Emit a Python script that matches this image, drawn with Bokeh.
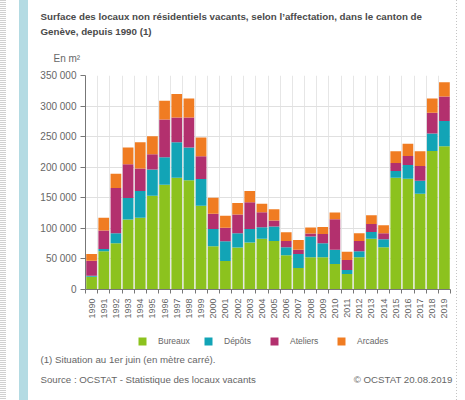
from bokeh.plotting import figure
from bokeh.layouts import column
from bokeh.models import ColumnDataSource, FixedTicker, Legend, LegendItem, Range1d
from bokeh.embed import file_html
from bokeh.resources import INLINE
from bokeh.core.properties import value
from math import pi, nan

years = [1990, 1991, 1992, 1993, 1994, 1995, 1996, 1997, 1998, 1999,
         2000, 2001, 2002, 2003, 2004, 2005, 2006, 2007, 2008, 2009,
         2010, 2011, 2012, 2013, 2014, 2015, 2016, 2017, 2018, 2019]
bureaux = [20800, 62400, 75600, 114500, 117200, 153400, 171400, 182900, 178500, 136900,
           70700, 46600, 68500, 76700, 83200, 79400, 55900, 35100, 52600, 52600,
           41600, 25200, 52600, 83200, 69000, 182900, 181300, 156600, 226700, 234400]
depots = [1700, 3900, 16400, 35000, 43800, 42700, 44900, 58100, 53700, 43800,
          28400, 32300, 23500, 22400, 18700, 23600, 13100, 23000, 33900, 23000,
          23600, 6600, 9800, 11000, 13200, 11000, 22400, 21400, 28500, 41100]
ateliers = [24600, 30100, 74000, 55300, 36700, 25200, 61900, 40500, 49300, 37300,
            24700, 21900, 30700, 43800, 24600, 9800, 10400, 7100, 5000, 15300,
            49800, 16400, 17000, 13100, 9800, 13100, 14800, 24100, 34000, 40000]
arcades = [10900, 20800, 23500, 27400, 43300, 29500, 30700, 38400, 30700, 30600,
           26300, 19700, 18600, 18100, 13700, 18600, 14300, 15900, 9800, 11500,
           11000, 13700, 12600, 14300, 13200, 19200, 19700, 24100, 23000, 23500]
series = ["Bureaux", "Dépôts", "Ateliers", "Arcades"]
colors = ["#8cc21e", "#12a4b6", "#b3306e", "#f07c22"]
y_ticks = [0, 50000, 100000, 150000, 200000, 250000, 300000, 350000]
y_tick_labels = ["0", "50 000", "100 000", "150 000", "200 000", "250 000", "300 000", "350 000"]

title_lines = ["Surface des locaux non résidentiels vacants, selon l\u2019affectation, dans le canton de",
               "Genève, depuis 1990 (1)"]
unit_text = "En m²"
note_text = "(1) Situation au 1er juin (en mètre carré)."
source_text = "Source : OCSTAT - Statistique des locaux vacants"
copy_text = "© OCSTAT 20.08.2019"

FONT = "Liberation Sans"
W = 465
TOP_H = 68                      # header strip
MAIN_Y1 = 322                   # chart figure ends here (canvas px)
MAIN_H = MAIN_Y1 - TOP_H
BOT_H = 400 - MAIN_Y1           # legend + footnotes


def text_fig(h):
    f = figure(width=W, height=h, x_range=Range1d(0, W), y_range=Range1d(h, 0),
               x_axis_type=None, y_axis_type=None, toolbar_location=None,
               output_backend="svg", min_border=0, frame_align=False)
    f.outline_line_color = None
    f.border_fill_color = None
    f.background_fill_color = None
    f.xgrid.visible = False
    f.ygrid.visible = False
    return f


def put(f, txt, x, y, size, color="#666666", bold=False, align="left"):
    f.text(x=[x], y=[y], text=[txt], text_font=value(FONT), text_font_size=size,
           text_color=color, text_font_style="bold" if bold else "normal",
           text_align=align, text_baseline="middle")


# ---- header
top = text_fig(TOP_H)
put(top, title_lines[0], 40, 16, "9.75px", "#4a4a4a", bold=True)
put(top, title_lines[1], 40, 31, "9.75px", "#4a4a4a", bold=True)
put(top, unit_text, 53, 58, "10px")

# ---- main chart
src = ColumnDataSource(dict(x=years, Bureaux=bureaux, **{"Dépôts": depots},
                            Ateliers=ateliers, Arcades=arcades))

p = figure(width=W, height=MAIN_H, output_backend="svg", toolbar_location=None,
           x_range=Range1d(years[0] - 0.5, years[-1] + 0.5), y_range=Range1d(0, 350000),
           min_border_left=85, min_border_right=W - 450, min_border_top=75 - TOP_H,
           min_border_bottom=MAIN_Y1 - 289, frame_align=False)
p.outline_line_color = None
p.background_fill_color = "white"
p.border_fill_color = None

p.vbar_stack(series, x="x", width=0.88, source=src, color=colors, line_color=None)

p.xaxis.ticker = FixedTicker(ticks=years, minor_ticks=[y - 0.5 for y in years] + [years[-1] + 0.5])
p.xaxis.major_tick_out = 0
p.xaxis.major_tick_in = 0
p.xaxis.minor_tick_out = 4
p.xaxis.minor_tick_in = 0
p.xaxis.minor_tick_line_color = "#777777"
p.xaxis.major_label_orientation = pi / 2
p.xaxis.major_label_text_font = FONT
p.xaxis.major_label_text_font_size = "9px"
p.xaxis.major_label_text_color = "#666666"
p.xaxis.major_label_standoff = 5
p.xaxis.axis_line_color = "#777777"

p.yaxis.ticker = FixedTicker(ticks=y_ticks)
p.yaxis.major_label_overrides = {t: s for t, s in zip(y_ticks, y_tick_labels)}
p.yaxis.major_tick_out = 5
p.yaxis.major_tick_in = 0
p.yaxis.minor_tick_line_color = None
p.yaxis.major_label_text_font = FONT
p.yaxis.major_label_text_font_size = "10px"
p.yaxis.major_label_text_color = "#666666"
p.yaxis.major_label_standoff = 4
p.yaxis.axis_line_color = "#777777"
p.yaxis.major_tick_line_color = "#777777"

p.xgrid.ticker = FixedTicker(ticks=[y - 0.5 for y in years] + [years[-1] + 0.5])
p.xgrid.grid_line_color = "#e6e6e6"
p.ygrid.grid_line_color = "#e0e0e0"

# ---- footer: legend + notes
bot = text_fig(BOT_H)
leg_x = [137, 203, 269, 336]
for name, c, lx in zip(series, colors, leg_x):
    r = bot.vbar(x=[nan], top=[nan], width=1, fill_color=c, line_color=None)
    lg = Legend(items=[LegendItem(label=name, renderers=[r])],
                location=(lx, 400 - 346), orientation="horizontal",
                glyph_width=10, glyph_height=10, label_height=10, label_width=10,
                label_standoff=11, padding=0, margin=0, spacing=0,
                border_line_color=None, background_fill_alpha=0,
                label_text_font=FONT, label_text_font_size="8.5px",
                label_text_color="#666666")
    bot.add_layout(lg, "center")

put(bot, note_text, 40, 359 - MAIN_Y1, "9.7px")
put(bot, source_text, 40, 379 - MAIN_Y1, "9.7px")
put(bot, copy_text, 452, 379 - MAIN_Y1, "9.7px", align="right")

bg = ("repeating-linear-gradient(to bottom, #c4c4c4 0 1px, transparent 1px 3px) 456px 0 / 1px 100% no-repeat, "
      "repeating-linear-gradient(to bottom, #d0d0d0 0 1px, transparent 1px 2px) 0 0 / 6px 100% no-repeat, "
      "linear-gradient(to right, #b4dbe3, #b4dbe3) 19px 0 / 9px 100% no-repeat, white")
layout = column(top, p, bot, spacing=0, styles={"background": bg})

open("out.html", "w").write(file_html(layout, INLINE))
